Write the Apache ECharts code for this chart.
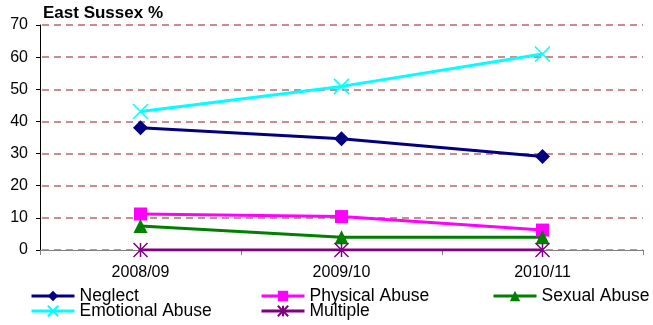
<!DOCTYPE html>
<html>
<head>
<meta charset="utf-8">
<script src="https://cdn.jsdelivr.net/npm/echarts@6/dist/echarts.min.js"></script>
<style>
  html, body { margin: 0; padding: 0; background: #fff; }
  #chart { width: 653px; height: 325px; }
</style>
</head>
<body>
<div id="chart"></div>
<script>
// Child protection plans by category of abuse, East Sussex (%)
const years = ['2008/09', '2009/10', '2010/11'];
const neglect = [38, 34.6, 29.1];
const physicalAbuse = [11.2, 10.4, 6.2];
const sexualAbuse = [7.5, 4.0, 4.0];
const emotionalAbuse = [43.1, 50.9, 61.0];
const multiple = [0, 0, 0];
const yTicks = [0, 10, 20, 30, 40, 50, 60, 70];

const FONT = 'Liberation Sans, Arial, sans-serif';
const X_PATH = 'path://M0,0 L10,10 M10,0 L0,10';
const STAR_PATH = 'path://M5,0 L5,10 M0,0 L10,10 M10,0 L0,10';

function lineSeries(name, data, color, symbol, size, stroked) {
  return {
    name, type: 'line', data,
    symbol, symbolSize: size, symbolKeepAspect: true,
    lineStyle: { color, width: 3 },
    itemStyle: stroked
      ? { color: 'rgba(0,0,0,0)', borderColor: color, borderWidth: 1.5 }
      : { color, borderColor: color, borderWidth: 0 },
    emphasis: { disabled: true },
    animation: false,
    z: 2
  };
}

const series = [
  lineSeries('Neglect', neglect, '#000080', 'diamond', 15, false),
  lineSeries('Physical Abuse', physicalAbuse, '#FF00FF', 'rect', 13, false),
  lineSeries('Sexual Abuse', sexualAbuse, '#008000', 'triangle', 14, false),
  lineSeries('Emotional Abuse', emotionalAbuse, '#00FFFF', X_PATH, 15, true),
  lineSeries('Multiple', multiple, '#800080', STAR_PATH, 14, true)
];

function legendAt(name, left, top) {
  return {
    data: [name], left, top, padding: 0,
    itemWidth: 43, itemHeight: 13, itemGap: 0,
    selectedMode: false,
    lineStyle: { width: 3 },
    textStyle: { fontFamily: FONT, fontSize: 17.5, color: '#000', lineHeight: 14 }
  };
}

const chart = echarts.init(document.getElementById('chart'), null, { renderer: 'canvas' });
chart.setOption({
  backgroundColor: '#fff',
  animation: false,
  title: {
    text: 'East Sussex %', left: 43, top: 5, padding: 0,
    textStyle: { fontFamily: FONT, fontSize: 17, fontWeight: 'bold', color: '#000' }
  },
  grid: { left: 40, right: 10, top: 25, bottom: 75, containLabel: false },
  legend: [
    legendAt('Neglect', 30, 287),
    legendAt('Physical Abuse', 260, 287),
    legendAt('Sexual Abuse', 492, 287),
    legendAt('Emotional Abuse', 30, 302),
    legendAt('Multiple', 260, 302)
  ],
  xAxis: {
    type: 'category', data: years, boundaryGap: true,
    axisLine: { lineStyle: { color: '#808080', width: 1 } },
    axisTick: { show: true, length: 5, lineStyle: { color: '#808080' } },
    axisLabel: { fontFamily: FONT, fontSize: 16, color: '#000', margin: 15 },
    splitLine: { show: false }
  },
  yAxis: {
    type: 'value', min: yTicks[0], max: yTicks[yTicks.length - 1], interval: 10,
    axisLine: { show: true, lineStyle: { color: '#000', width: 1 } },
    axisTick: { show: true, length: 4, lineStyle: { color: '#000' } },
    axisLabel: { fontFamily: FONT, fontSize: 16, color: '#000', margin: 12 },
    splitLine: { show: true, lineStyle: { color: '#b86868', type: [7, 5], dashOffset: -2, width: 1.5 } }
  },
  series
});
</script>
</body>
</html>
